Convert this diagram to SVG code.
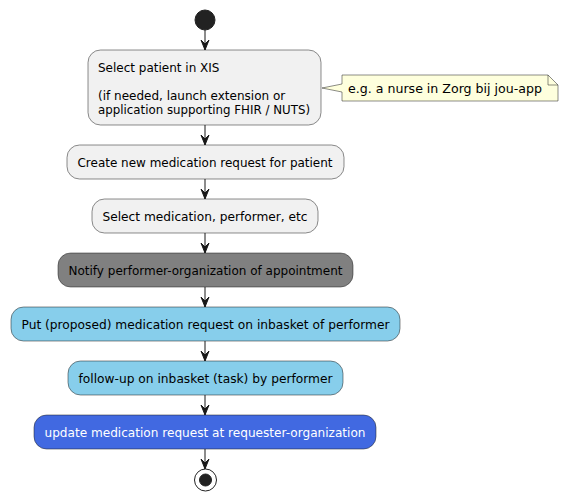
<svg xmlns="http://www.w3.org/2000/svg" width="569" height="501" viewBox="0 0 569 501">
<style>
.n{stroke:#181818;stroke-width:0.5}
.t{font-family:"DejaVu Sans",sans-serif;font-size:12px;fill:#000}
.nt{font-size:13px}
.w{fill:#FFFFFF}
.c line{stroke:#181818;stroke-width:1}
.c polygon{fill:#181818;stroke:#181818;stroke-width:1}
</style>
<rect width="569" height="501" fill="#FFFFFF"/>
<g id="start"><circle cx="205" cy="20" r="10" fill="#222222" stroke="#222222"/></g>
<g id="n1"><rect class="n" x="88" y="50" width="233" height="75" rx="12.5" fill="#F1F1F1"/>
<text class="t" x="98" y="71.5">Select patient in XIS</text>
<text class="t" x="98" y="99.5">(if needed, launch extension or</text>
<text class="t" x="98" y="113.5" textLength="212" lengthAdjust="spacingAndGlyphs">application supporting FHIR / NUTS)</text></g>
<g id="note"><polygon class="n" fill="#FEFFDD" points="342,75 342,84 322,88 342,92 342,101 558,101 558,85 548,75"/>
<path d="M548,75 L548,85 L558,85" fill="none" stroke="#181818" stroke-width="0.5"/>
<text class="t nt" x="348" y="92.5" textLength="194" lengthAdjust="spacingAndGlyphs">e.g. a nurse in Zorg bij jou-app</text></g>
<g id="n2"><rect class="n" x="67" y="145" width="277" height="34" rx="12.5" fill="#F1F1F1"/>
<text class="t" x="77.5" y="166.5" textLength="255" lengthAdjust="spacingAndGlyphs">Create new medication request for patient</text></g>
<g id="n3"><rect class="n" x="92" y="199" width="226" height="34" rx="12.5" fill="#F1F1F1"/>
<text class="t" x="102.5" y="220.5" textLength="205" lengthAdjust="spacingAndGlyphs">Select medication, performer, etc</text></g>
<g id="n4"><rect class="n" x="58" y="253" width="295" height="34" rx="12.5" fill="#808080"/>
<text class="t" x="68.5" y="274.5" textLength="274" lengthAdjust="spacingAndGlyphs">Notify performer-organization of appointment</text></g>
<g id="n5"><rect class="n" x="11" y="307" width="389" height="34" rx="12.5" fill="#87CEEB"/>
<text class="t" x="21.5" y="328.5" textLength="368" lengthAdjust="spacingAndGlyphs">Put (proposed) medication request on inbasket of performer</text></g>
<g id="n6"><rect class="n" x="68" y="361" width="275" height="34" rx="12.5" fill="#87CEEB"/>
<text class="t" x="78.5" y="382.5" textLength="254" lengthAdjust="spacingAndGlyphs">follow-up on inbasket (task) by performer</text></g>
<g id="n7"><rect class="n" x="34" y="415" width="342" height="34" rx="12.5" fill="#4169E1"/>
<text class="t w" x="44.5" y="436.5" textLength="321" lengthAdjust="spacingAndGlyphs">update medication request at requester-organization</text></g>
<g id="end"><circle cx="205.5" cy="480" r="11" fill="none" stroke="#222222" stroke-width="1"/><circle cx="205.5" cy="480" r="6" fill="#222222" stroke="#222222"/></g>
<g class="c" id="connectors">
<line x1="205" y1="30" x2="205" y2="50"/><polygon points="201,40 205,50 209,40 205,44"/>
<line x1="205" y1="125" x2="205" y2="145"/><polygon points="201,135 205,145 209,135 205,139"/>
<line x1="205" y1="179" x2="205" y2="199"/><polygon points="201,189 205,199 209,189 205,193"/>
<line x1="205" y1="233" x2="205" y2="253"/><polygon points="201,243 205,253 209,243 205,247"/>
<line x1="205" y1="287" x2="205" y2="307"/><polygon points="201,297 205,307 209,297 205,301"/>
<line x1="205" y1="341" x2="205" y2="361"/><polygon points="201,351 205,361 209,351 205,355"/>
<line x1="205" y1="395" x2="205" y2="415"/><polygon points="201,405 205,415 209,405 205,409"/>
<line x1="205" y1="449" x2="205" y2="469"/><polygon points="201,459 205,469 209,459 205,463"/>
</g>
</svg>
